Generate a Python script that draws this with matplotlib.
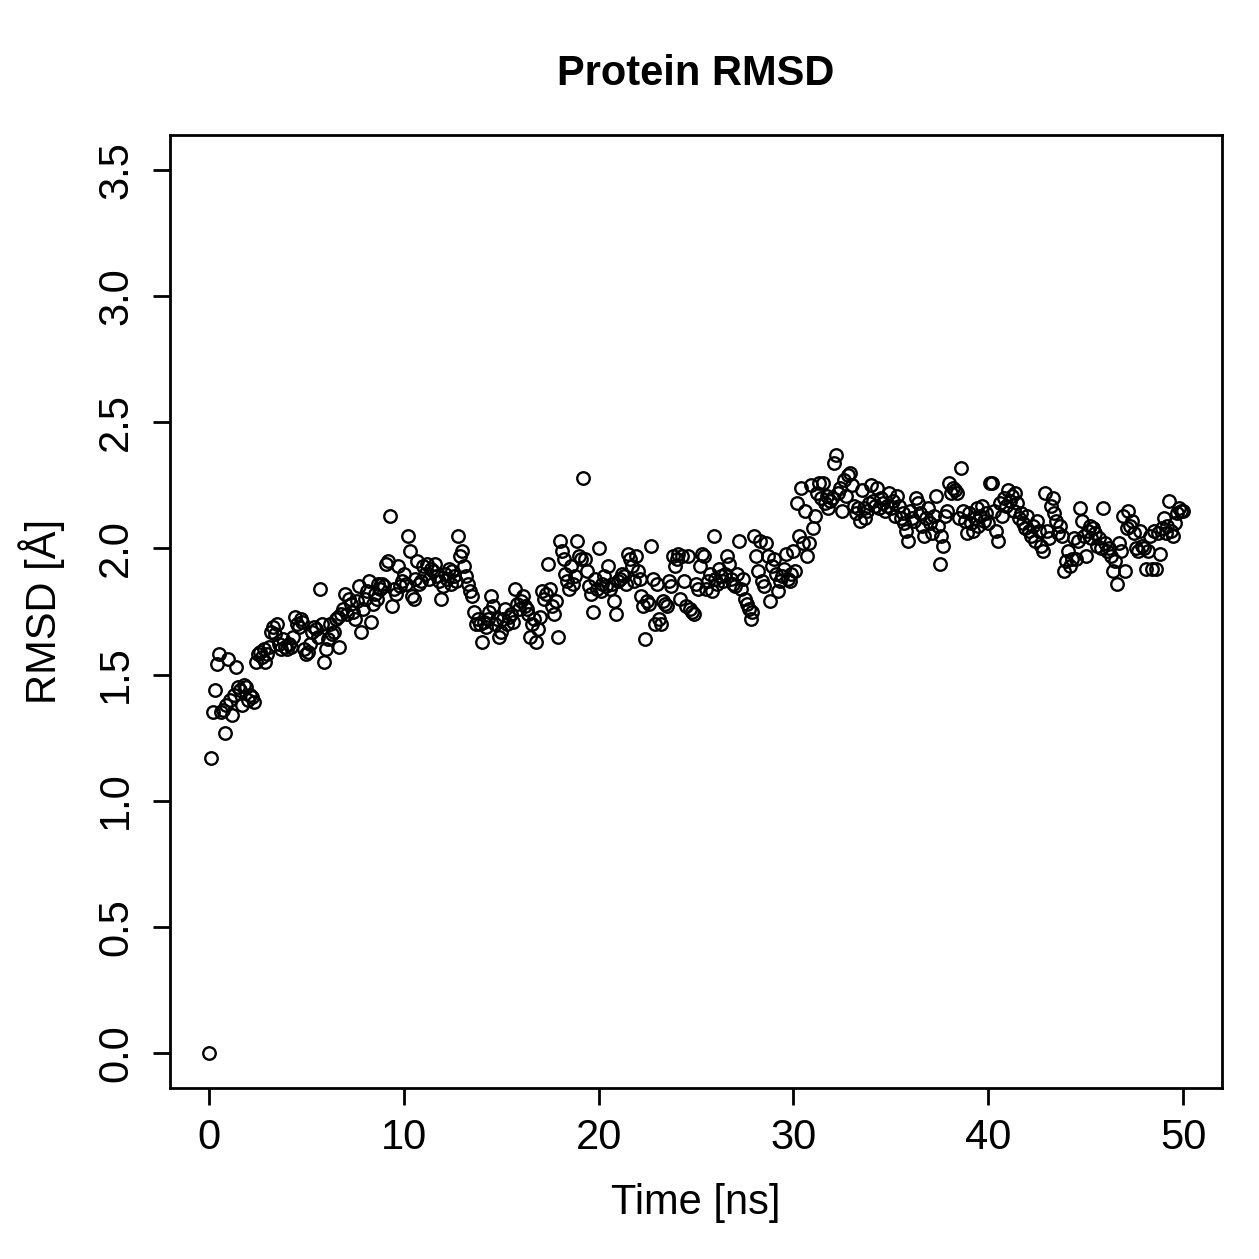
import numpy as np
import matplotlib
matplotlib.use("Agg")
import matplotlib.pyplot as plt

# RMSD values (Angstrom), one per 0.1 ns from 0 to 50 ns
rmsd = [
    0.00, 1.17, 1.35, 1.44, 1.54, 1.58, 1.35, 1.36, 1.27, 1.38,
    1.56, 1.40, 1.34, 1.42, 1.53, 1.45, 1.44, 1.38, 1.46, 1.45,
    1.40, 1.42, 1.41, 1.39, 1.55, 1.58, 1.59, 1.57, 1.60, 1.55,
    1.58, 1.61, 1.67, 1.69, 1.66, 1.70, 1.62, 1.60, 1.64, 1.61,
    1.60, 1.62, 1.61, 1.65, 1.73, 1.70, 1.69, 1.72, 1.71, 1.60,
    1.58, 1.59, 1.62, 1.67, 1.69, 1.68, 1.65, 1.84, 1.70, 1.55,
    1.60, 1.64, 1.70, 1.66, 1.67, 1.72, 1.73, 1.61, 1.74, 1.76,
    1.82, 1.74, 1.80, 1.78, 1.75, 1.72, 1.79, 1.85, 1.67, 1.76,
    1.80, 1.83, 1.87, 1.71, 1.78, 1.82, 1.80, 1.86, 1.84, 1.86,
    1.85, 1.94, 1.95, 2.13, 1.77, 1.84, 1.82, 1.93, 1.85, 1.87,
    1.90, 1.86, 2.05, 1.99, 1.81, 1.80, 1.88, 1.95, 1.86, 1.87,
    1.93, 1.90, 1.94, 1.88, 1.92, 1.91, 1.94, 1.89, 1.87, 1.80,
    1.85, 1.90, 1.88, 1.92, 1.86, 1.91, 1.89, 1.87, 2.05, 1.97,
    1.99, 1.93, 1.89, 1.86, 1.83, 1.81, 1.75, 1.70, 1.72, 1.70,
    1.63, 1.71, 1.69, 1.72, 1.75, 1.81, 1.77, 1.70, 1.72, 1.65,
    1.67, 1.72, 1.76, 1.70, 1.73, 1.74, 1.71, 1.84, 1.78, 1.76,
    1.79, 1.81, 1.77, 1.76, 1.74, 1.65, 1.70, 1.72, 1.63, 1.68,
    1.73, 1.83, 1.80, 1.82, 1.94, 1.84, 1.77, 1.74, 1.79, 1.65,
    2.03, 1.99, 1.96, 1.90, 1.87, 1.84, 1.93, 1.86, 1.89, 2.03,
    1.97, 1.96, 2.28, 1.96, 1.91, 1.85, 1.82, 1.75, 1.88, 1.84,
    2.00, 1.83, 1.86, 1.89, 1.85, 1.93, 1.84, 1.86, 1.79, 1.74,
    1.87, 1.88, 1.90, 1.89, 1.86, 1.98, 1.96, 1.93, 1.87, 1.97,
    1.91, 1.88, 1.81, 1.77, 1.64, 1.79, 1.78, 2.01, 1.88, 1.70,
    1.86, 1.72, 1.70, 1.79, 1.78, 1.77, 1.87, 1.85, 1.97, 1.93,
    1.96, 1.98, 1.80, 1.97, 1.87, 1.77, 1.97, 1.76, 1.75, 1.74,
    1.86, 1.84, 1.93, 1.98, 1.97, 1.84, 1.87, 1.90, 1.83, 2.05,
    1.88, 1.86, 1.92, 1.89, 1.87, 1.90, 1.97, 1.94, 1.88, 1.86,
    1.85, 1.90, 2.03, 1.84, 1.88, 1.80, 1.78, 1.76, 1.72, 1.75,
    2.05, 1.97, 1.91, 2.03, 1.87, 1.85, 2.02, 1.97, 1.79, 1.93,
    1.96, 1.90, 1.83, 1.87, 1.89, 1.92, 1.98, 1.88, 1.87, 1.90,
    1.99, 1.91, 2.18, 2.05, 2.24, 2.02, 2.15, 1.97, 2.02, 2.25,
    2.08, 2.13, 2.22, 2.26, 2.20, 2.26, 2.18, 2.21, 2.16, 2.19,
    2.20, 2.34, 2.37, 2.22, 2.24, 2.15, 2.27, 2.21, 2.29, 2.30,
    2.25, 2.17, 2.14, 2.16, 2.11, 2.23, 2.16, 2.12, 2.15, 2.18,
    2.25, 2.19, 2.17, 2.24, 2.16, 2.20, 2.18, 2.15, 2.17, 2.22,
    2.16, 2.19, 2.13, 2.21, 2.17, 2.12, 2.14, 2.10, 2.07, 2.03,
    2.15, 2.12, 2.11, 2.20, 2.18, 2.14, 2.09, 2.05, 2.12, 2.16,
    2.10, 2.06, 2.13, 2.21, 2.09, 1.94, 2.05, 2.01, 2.13, 2.15,
    2.26, 2.22, 2.24, 2.23, 2.22, 2.12, 2.32, 2.15, 2.11, 2.06,
    2.14, 2.10, 2.07, 2.12, 2.16, 2.09, 2.13, 2.17, 2.11, 2.14,
    2.10, 2.26, 2.26, 2.15, 2.07, 2.03, 2.18, 2.13, 2.20, 2.17,
    2.23, 2.19, 2.21, 2.15, 2.22, 2.18, 2.12, 2.14, 2.10, 2.08,
    2.13, 2.07, 2.05, 2.09, 2.03, 2.11, 2.07, 2.01, 1.99, 2.22,
    2.07, 2.04, 2.17, 2.20, 2.14, 2.11, 2.06, 2.09, 2.05, 1.91,
    1.95, 1.99, 1.93, 1.96, 2.04, 1.96, 2.03, 2.16, 2.11, 2.05,
    1.97, 2.07, 2.09, 2.04, 2.08, 2.06, 2.01, 2.04, 2.00, 2.16,
    2.02, 1.99, 2.00, 1.97, 1.91, 1.95, 1.86, 2.02, 1.99, 2.13,
    1.91, 2.08, 2.15, 2.09, 2.11, 2.06, 2.00, 1.99, 2.07, 2.01,
    2.00, 1.92, 1.99, 2.05, 1.92, 2.07, 1.92, 2.06, 1.98, 2.08,
    2.12, 2.06, 2.09, 2.19, 2.07, 2.05, 2.10, 2.14, 2.16, 2.15,
    2.15,
]
time_ns = np.arange(len(rmsd)) * 0.1

x_ticks = [0, 10, 20, 30, 40, 50]
y_ticks = [0.0, 0.5, 1.0, 1.5, 2.0, 2.5, 3.0, 3.5]
y_tick_labels = ["0.0", "0.5", "1.0", "1.5", "2.0", "2.5", "3.0", "3.5"]

plt.rcParams['font.family'] = ['Liberation Sans', 'DejaVu Sans']

W = 1259
fig = plt.figure(figsize=(W / 100, W / 100), dpi=100)
ax = fig.add_axes([170 / W, 1 - 1088 / W, (1222 - 170) / W, (1088 - 135) / W])

ax.plot(time_ns, rmsd, linestyle='none', marker='o', markersize=9.0,
        markerfacecolor='none', markeredgecolor='black', markeredgewidth=1.7)

ax.set_xlim(-2, 52)
ax.set_ylim(-0.14, 3.64)
ax.set_xticks(x_ticks)
ax.set_yticks(y_ticks)
ax.set_yticklabels(y_tick_labels, rotation=90, va='center')
ax.tick_params(axis='both', direction='out', length=12.5, width=2.0,
               labelsize=30, pad=9)
ax.tick_params(axis='y', pad=12)
for s in ax.spines.values():
    s.set_linewidth(2.0)

ax.set_xlabel("Time [ns]", fontsize=30, labelpad=18)
ax.set_ylabel("RMSD [Å]", fontsize=30, labelpad=22)
ax.set_title("Protein RMSD", fontsize=30, fontweight='bold', pad=36)

fig.savefig("out.png", dpi=100, facecolor='white')
